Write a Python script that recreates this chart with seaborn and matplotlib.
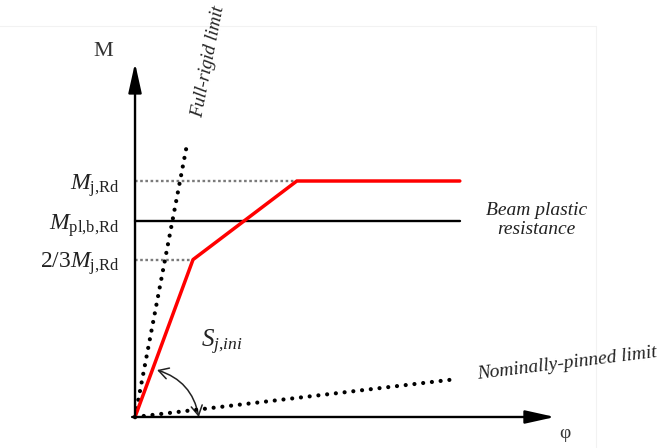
import matplotlib
matplotlib.use("Agg")
import matplotlib.pyplot as plt
from matplotlib.patches import FancyArrowPatch
import seaborn as sns

# Moment-rotation characteristic of a semi-rigid joint (normalised units)
phi_joint = [0.0, 1.0, 2.79, 5.6]      # rotation
m_joint = [0.0, 0.667, 1.0, 1.0]       # moment / M_j,Rd

phi_rigid = [0.0, 0.9]                 # full-rigid boundary
m_rigid = [0.0, 1.16]
phi_pinned = [0.0, 5.52]               # nominally-pinned boundary
m_pinned = [0.0, 0.16]

m_beam = 0.83                          # beam plastic resistance
phi_beam_end = 5.6
level_labels = [r"$M_{\mathrm{j{,}Rd}}$", r"$M_{\mathrm{pl{,}b{,}Rd}}$",
                r"$2/3M_{\mathrm{j{,}Rd}}$"]
level_values = [1.0, 0.83, 0.667]
phi_axis_end = 7.24
m_axis_end = 1.5

sns.set_style("white")
plt.rcParams["font.family"] = ["Liberation Serif", "DejaVu Serif"]
plt.rcParams["mathtext.fontset"] = "custom"
plt.rcParams["mathtext.rm"] = "Liberation Serif"
plt.rcParams["mathtext.it"] = "Liberation Serif:italic"
plt.rcParams["mathtext.bf"] = "Liberation Serif:bold"

fig = plt.figure(figsize=(6.58, 4.48), dpi=100)
ax = fig.add_axes([0, 0, 1, 1])
ax.set_xlim(-2.328, 9.017)
ax.set_ylim(-0.1314, 1.767)
ax.axis("off")

# faint frame of the drawing area
ax.plot([-2.4, 7.94], [1.657, 1.657], color="#f2f2f2", lw=0.8)
ax.plot([7.94, 7.94], [1.657, -0.2], color="#f2f2f2", lw=0.8)

# axes with arrows
arrow = dict(arrowstyle="-|>,head_length=1.8,head_width=0.4", lw=1.7,
             color="black", mutation_scale=10, shrinkA=0, shrinkB=0)
ax.annotate("", xy=(phi_axis_end, 0.0), xytext=(-0.05, 0.0), arrowprops=arrow)
ax.annotate("", xy=(0.0, m_axis_end), xytext=(0.0, -0.005), arrowprops=arrow)

# gray guide lines to the characteristic levels
guide = dict(color="#7a7a7a", lw=1.7, linestyle=(0, (1.1, 1.1)))
ax.plot([0, phi_joint[2]], [m_joint[2], m_joint[2]], **guide)
ax.plot([0, phi_joint[1]], [m_joint[1], m_joint[1]], **guide)

# beam plastic resistance
sns.lineplot(x=[0, phi_beam_end], y=[m_beam, m_beam], ax=ax, color="black", lw=1.7)

# classification boundaries
dots = dict(color="black", lw=3.0, linestyle=(0, (0.01, 2.1)),
            dash_capstyle="round")
sns.lineplot(x=phi_rigid, y=m_rigid, ax=ax, sort=False, estimator=None, **dots)
sns.lineplot(x=phi_pinned, y=m_pinned, ax=ax, sort=False, estimator=None, **dots)

# joint curve
sns.lineplot(x=phi_joint, y=m_joint, ax=ax, sort=False, estimator=None,
             color="#ff0000", lw=2.5)

# initial stiffness arc
arc = FancyArrowPatch((0.38, 0.199), (1.1, 0.0),
                      connectionstyle="arc3,rad=-0.3",
                      arrowstyle="<->,head_length=0.7,head_width=0.4",
                      mutation_scale=10, lw=1.1, color="#222222",
                      shrinkA=0, shrinkB=0)
ax.add_patch(arc)

# level labels on the moment axis
for lab, val in zip(level_labels, level_values):
    ax.text(-0.27, val - 0.035, lab, ha="right", va="baseline", fontsize=17,
            color="#222222")

ax.text(-0.55, 1.547, "M", ha="center", va="center", fontsize=16, color="#333333")
ax.text(7.41, -0.0715, "φ", ha="center", va="center", fontsize=14, color="#333333")
ax.text(1.26, 1.504, "Full-rigid limit", ha="center", va="center", rotation=79,
        rotation_mode="anchor", fontsize=13.5, style="italic", color="#222222")
ax.text(6.92, 0.835, "Beam plastic\nresistance", ha="center", va="center",
        fontsize=14, style="italic", color="#222222", linespacing=1.2)
ax.text(7.44, 0.228, "Nominally-pinned limit", ha="center", va="center",
        rotation=7, rotation_mode="anchor", fontsize=14, style="italic",
        color="#222222")
ax.text(1.5, 0.314, r"$S_{j{,}ini}$", ha="center", va="center", fontsize=18,
        color="#222222")

fig.savefig("out.png", dpi=100)
